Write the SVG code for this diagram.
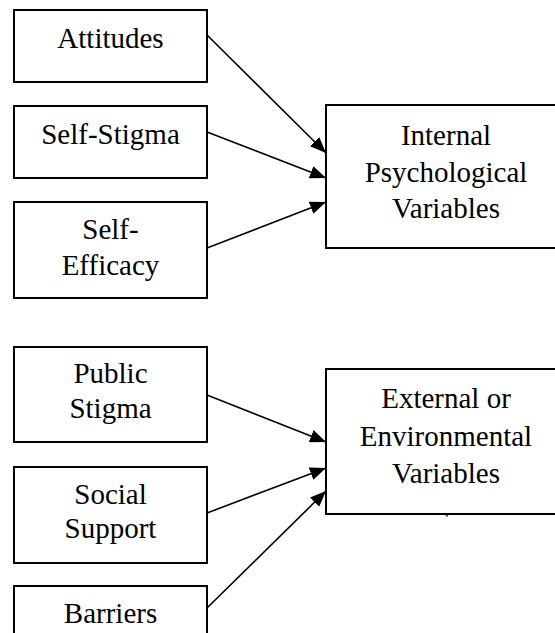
<svg xmlns="http://www.w3.org/2000/svg" width="555" height="633" viewBox="0 0 555 633">
<defs>
<marker id="ah" markerUnits="userSpaceOnUse" markerWidth="16" markerHeight="13" refX="16" refY="6.5" orient="auto">
<path d="M0,0 L16,6.5 L0,13 z" fill="#000"/>
</marker>
<style>
rect{fill:#fff;stroke:#000;stroke-width:2}
text{font-size:29px;fill:#000;text-anchor:middle}
.c line{stroke:#000;stroke-width:1.6;marker-end:url(#ah)}
</style>
</defs>
<rect x="0" y="0" width="555" height="633" style="fill:#fff;stroke:none"/>
<g font-family="Liberation Serif, Times New Roman, DejaVu Serif, serif">
<g id="attitudes"><rect x="14" y="10" width="193" height="72"/><text x="110.5" y="48">Attitudes</text></g>
<g id="self-stigma"><rect x="14" y="106" width="193" height="72"/><text x="110.5" y="144">Self-Stigma</text></g>
<g id="self-efficacy"><rect x="14" y="202" width="193" height="96"/><text x="110.5" y="239">Self-</text><text x="110.5" y="275">Efficacy</text></g>
<g id="internal"><rect x="326" y="105" width="240" height="143"/><text x="446" y="145">Internal</text><text x="446" y="182">Psychological</text><text x="446" y="218">Variables</text></g>
<g id="public-stigma"><rect x="14" y="347" width="193" height="95"/><text x="110.5" y="383">Public</text><text x="110.5" y="418">Stigma</text></g>
<g id="social-support"><rect x="14" y="467" width="193" height="96"/><text x="110.5" y="504">Social</text><text x="110.5" y="538">Support</text></g>
<g id="barriers"><rect x="14" y="586" width="193" height="70"/><text x="110.5" y="623">Barriers</text></g>
<g id="external"><rect x="326" y="369" width="240" height="145"/><text x="446" y="408">External or</text><text x="446" y="446">Environmental</text><text x="446" y="483">Variables</text><line x1="447" y1="514" x2="447" y2="516.5" stroke="#000" stroke-width="1.5"/></g>
</g>
<g class="c" id="connectors">
<line x1="207" y1="35" x2="326" y2="153"/>
<line x1="207" y1="132" x2="326" y2="178"/>
<line x1="207" y1="248" x2="326" y2="202"/>
<line x1="207" y1="395" x2="326" y2="442"/>
<line x1="207" y1="513" x2="326" y2="468"/>
<line x1="207" y1="608" x2="326" y2="491"/>
</g>
</svg>
